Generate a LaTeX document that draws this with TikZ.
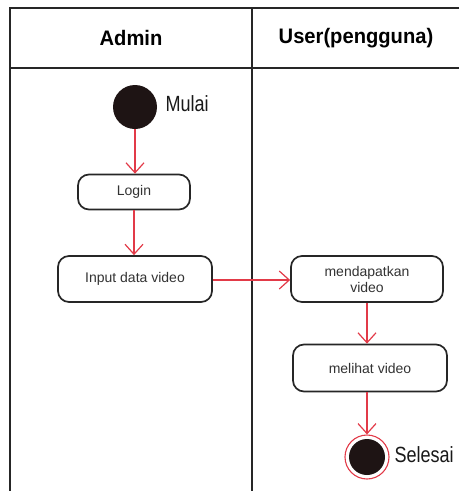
\documentclass[tikz,border=0pt]{standalone}
\usepackage{fontspec}
\setmainfont{Liberation Sans}
\newfontfamily\labelfont[FakeStretch=0.82]{Liberation Sans}
\newfontfamily\headfont[FakeStretch=0.96]{Liberation Sans}
\usetikzlibrary{arrows.meta}
\definecolor{flowred}{HTML}{E23A48}
\definecolor{inkdark}{HTML}{1E1414}
\definecolor{boxline}{HTML}{262626}
\definecolor{boxtext}{HTML}{333333}
\tikzset{
  lane/.style={line width=1.3pt, draw=black!85},
  lanehead/.style={font=\headfont\fontsize{21}{24}\selectfont\bfseries, text=black},
  action/.style={draw=boxline, line width=1.7pt, rounded corners=11pt,
    fill=white, align=center, text=boxtext,
    font=\fontsize{14}{16}\selectfont, inner sep=0pt},
  startnode/.style={circle, fill=inkdark, minimum size=44pt, inner sep=0pt},
  endnode/.style={circle, draw=flowred, line width=1.1pt, fill=white,
    minimum size=44pt, inner sep=0pt},
  statelabel/.style={font=\labelfont\fontsize{22}{24}\selectfont, text=black!90, anchor=west},
  flow/.style={draw=flowred, line width=1.2pt,
    -{Straight Barb[length=10pt,width=18pt,line width=1.2pt]}},
}
\begin{document}
\begin{tikzpicture}[x=1pt,y=-1pt]
\useasboundingbox (0,0) rectangle (459,491);

% swimlane frame
\coordinate (tl) at (10,8);
\coordinate (tr) at (459,8);
\coordinate (hl) at (10,68);
\coordinate (hr) at (459,68);
\coordinate (bl) at (10,491);
\coordinate (mt) at (252,8);
\coordinate (mb) at (252,491);
\draw[lane] (tr) -- (tl) -- (bl);
\draw[lane] (hl) -- (hr);
\draw[lane] (mt) -- (mb);

\node[lanehead] (hadmin) at (131,38) {Admin};
\node[lanehead] (huser) at (356,38) {User(pengguna)};

% activities
\node[startnode] (start) at (135,107) {};
\node[statelabel] (mulai) at (162,104) {Mulai};

\node[action, minimum width=112pt, minimum height=35pt] (login) at (134,192) {Login};
\node[action, minimum width=154pt, minimum height=46pt] (input) at (135,279) {Input data video};
\node[action, minimum width=152pt, minimum height=46pt] (dapat) at (367,279) {mendapatkan\\video};
\node[action, minimum width=154pt, minimum height=47pt] (lihat) at (370,368) {melihat video};

\node[endnode] (end) at (367,457) {};
\fill[inkdark] (end.center) circle (18pt);
\node[statelabel] (selesai) at (391,455) {Selesai};

% control flow
\draw[flow] (start) -- (start |- login.north);
\draw[flow] (login) -- (login |- input.north);
\draw[flow] (input.east |- 0,280) -- (dapat.west |- 0,280);
\draw[flow] (dapat.south) -- (dapat.south |- lihat.north);
\draw[flow] (dapat.south |- lihat.south) -- (end.north);
\end{tikzpicture}
\end{document}
